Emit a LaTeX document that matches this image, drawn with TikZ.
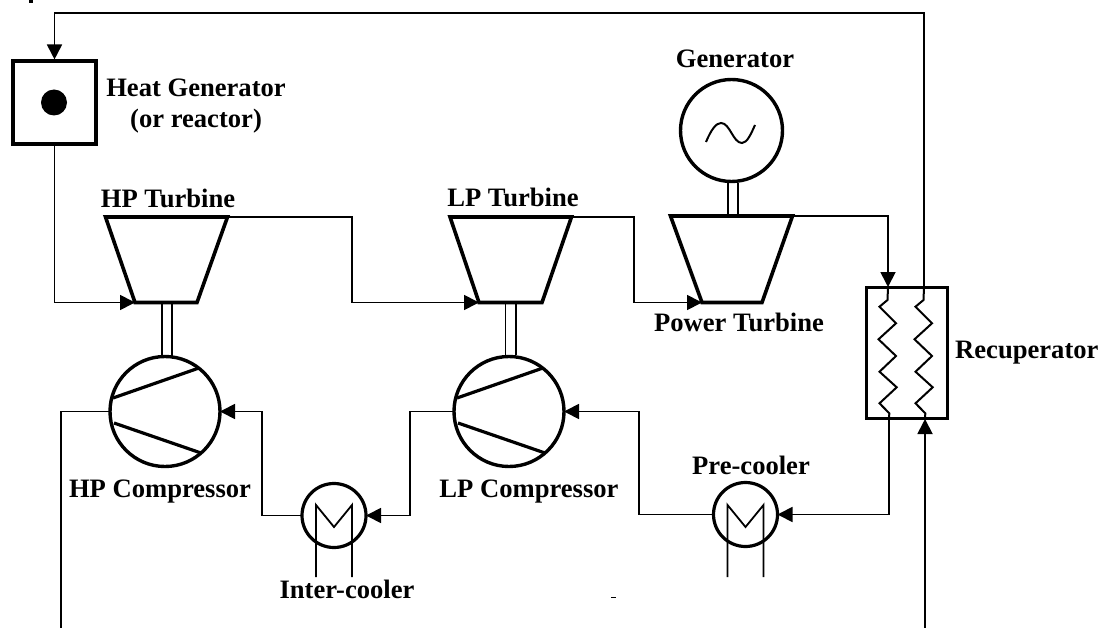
\documentclass[tikz,border=0pt]{standalone}
\usepackage{fontspec}
\setmainfont{Liberation Serif}
\usetikzlibrary{arrows.meta}
\tikzset{
 x=1pt,y=-1pt,
 thinline/.style={line width=1.8pt,black,line join=miter},
 pipe/.style={thinline,-{Triangle[length=15pt,width=15pt]}},
 thickline/.style={line width=3.6pt,black,line join=miter},
 bigcirc/.style={circle,draw,line width=3.4pt,minimum size=110pt,inner sep=0pt,outer sep=0pt},
 gencirc/.style={circle,draw,line width=3.4pt,minimum size=102pt,inner sep=0pt,outer sep=0pt},
 coolcirc/.style={circle,draw,line width=3.2pt,minimum size=64pt,inner sep=0pt,outer sep=0pt},
 lab/.style={font=\fontsize{26.6}{30}\selectfont\bfseries,inner sep=0pt,text=black,anchor=base},
}
\newcommand{\turbine}[6]{% name, xtl, xtr, xbl, xbr, ytop
 \coordinate (#1tl) at (#2,#6);
 \coordinate (#1tr) at (#3,#6);
 \coordinate (#1bl) at (#4,302.5);
 \coordinate (#1br) at (#5,302.5);
 \draw[thickline] (#1tl) -- (#1tr) -- (#1br) -- (#1bl) -- cycle;
}
\newcommand{\cooler}[3]{% name, cx, cy
 \node[coolcirc] (#1) at (#2,#3) {};
 \draw[thinline] (#2-18,577) -- (#2-18,505) -- (#2,527) -- (#2+18,505) -- (#2+18,577);
}
\newcommand{\comp}[3]{% name, cx, cy
 \node[bigcirc] (#1) at (#2,#3) {};
 \draw[line width=3.2pt] (#2-52,#3-13.5) -- (#2+34,#3-43.5);
 \draw[line width=3.2pt] (#2-51,#3+11.5) -- (#2+36,#3+41.5);
}
\newcommand{\coil}[1]{% x centre
 (#1-0.5,300) -- (#1-8.5,306.7) -- (#1+8,323.3) -- (#1-9.5,339.3) -- (#1+8,356) -- (#1-8.5,371.7) -- (#1+8.7,387.3) -- (#1-8.5,403.3) -- (#1+1.3,413.3)
}
\begin{document}
\begin{tikzpicture}
\useasboundingbox (0,0) rectangle (1099,628);
% heat generator
\node[draw,line width=3.6pt,minimum size=82.5pt,inner sep=0pt,outer sep=1.8pt] (hg) at (54.5,102.5) {};
\node[circle,fill=black,minimum size=26pt,inner sep=0pt] (hgdot) at (54,102.5) {};
% turbines
\turbine{hpt}{105.5}{227.5}{135}{197}{217}
\turbine{lpt}{450}{571.5}{479}{542}{217}
\turbine{pwt}{670.5}{792.5}{702}{762}{216}
% compressors
\comp{hpc}{165}{411.5}
\comp{lpc}{509}{411.5}
% generator
\node[gencirc] (gen) at (731.5,130.5) {};
\draw[line width=2pt] (706,142) .. controls (711,130) and (716,123) .. (721,123) .. controls (730,123) and (733,143) .. (742,143) .. controls (747,143) and (751,134) .. (755,125);
% shafts
\draw[thinline] (162,303) -- (162,356) (172,303) -- (172,356);
\draw[thinline] (505.5,303) -- (505.5,355) (516,303) -- (516,355);
\draw[thinline] (728,183) -- (728,216) (738,183) -- (738,216);
% coolers
\cooler{ic}{334}{515.5}
\cooler{pc}{745.5}{514.5}
% recuperator
\node[draw,line width=3.4pt,minimum width=81pt,minimum height=131pt,inner sep=0pt,outer sep=0pt] (rec) at (907,353) {};
\coordinate (recinL) at (888,287);
\coordinate (recinR) at (924,287);
\coordinate (recoutL) at (889,419);
\coordinate (recoutR) at (925,419);
\draw[line width=2pt,line join=miter] (recinL) -- \coil{888} -- (recoutL);
\draw[line width=2pt,line join=miter] (recinR) -- \coil{924} -- (recoutR);
% free ends
\coordinate (bottomL) at (61,628);
\coordinate (bottomR) at (925,628);
% connectors
\draw[pipe] (recinR) |- (54.5,13) -- (hg.north);
\draw[pipe] (hg.south) |- (hptbl);
\draw[pipe] (hpttr) -| (352,260) |- (lptbl);
\draw[pipe] (lpttr) -| (634,260) |- (pwtbl);
\draw[pipe] (pwttr) -| (recinL);
\draw[pipe] (bottomR) -- (recoutR);
\draw[pipe] (recoutL) |- (pc.east);
\draw[pipe] (pc.west) -| (639,460) |- (lpc.east);
\draw[pipe] (lpc.west) -| (410,460) |- (ic.east);
\draw[pipe] (ic.west) -| (262,460) |- (hpc.east);
\draw[thinline] (hpc.west) -| (bottomL);
% labels
\node[lab] (t1) at (196,97) {Heat Generator};
\node[lab] (t2) at (196,128) {(or reactor)};
\node[lab] (t3) at (168,208) {HP Turbine};
\node[lab] (t4) at (513,207) {LP Turbine};
\node[lab] (t5) at (735,68) {Generator};
\node[lab] (t6) at (739,331) {Power Turbine};
\node[lab,anchor=base west] (t7) at (955,358) {Recuperator};
\node[lab] (t8) at (751,474) {Pre-cooler};
\node[lab] (t9) at (529,497) {LP Compressor};
\node[lab] (t10) at (160,497) {HP Compressor};
\node[lab] (t11) at (347,598) {Inter-cooler};
% specks
\fill (611,596.5) rectangle (616,598);
\fill (29,0) rectangle (33,3);
\end{tikzpicture}
\end{document}
